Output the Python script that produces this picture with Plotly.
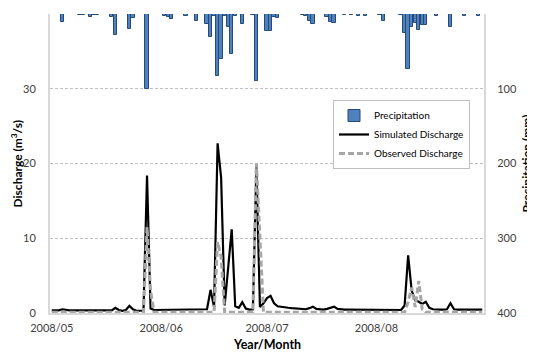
import pandas as pd
import plotly.graph_objects as go

# Daily dates, 2008-05-01 .. 2008-08-31
dates = pd.date_range("2008-05-01", "2008-08-31", freq="D")

# Precipitation (mm)
precipitation = [
    0, 0, 0, 11, 0, 0, 0, 0, 1, 1.5,
    0, 4.4, 1.5, 1, 0, 0, 0, 3.5, 28, 0,
    0, 0, 20, 5, 0, 0, 0, 100, 0, 0,
    0, 0, 2.5, 4.4, 6.7, 0, 0, 0, 2.7, 0,
    0, 10, 0, 0, 13.5, 31, 3, 83, 60.5, 3,
    18, 54, 2, 0, 14, 0, 0, 1, 89, 0,
    0, 23, 23, 4.5, 5.4, 0, 0, 0, 0, 0,
    0, 1, 2.7, 9, 14, 0, 0, 0, 4.4, 10.7,
    12.4, 0, 0, 1, 0, 1, 0, 2, 0, 2.7,
    0, 0, 0, 1, 9, 0, 0, 0, 0, 1,
    25, 73, 18, 12, 21, 15, 15, 0, 0, 2,
    0, 0, 0, 18, 0, 0, 0, 2, 0, 0,
    0, 2, 0,
]

# Simulated discharge (m3/s)
simulated = [
    0.35, 0.35, 0.35, 0.5, 0.4, 0.35, 0.35, 0.35, 0.35, 0.35,
    0.35, 0.4, 0.35, 0.35, 0.3, 0.3, 0.3, 0.35, 0.7, 0.4,
    0.3, 0.4, 0.95, 0.5, 0.3, 0.25, 0.3, 18.4, 0.6, 0.4,
    0.4, 0.4, 0.4, 0.4, 0.4, 0.4, 0.4, 0.4, 0.4, 0.4,
    0.4, 0.4, 0.4, 0.4, 0.5, 3.1, 0.8, 22.7, 18.1, 1.0,
    5.8, 11.2, 0.9, 0.7, 1.45, 0.6, 0.45, 0.5, 19.6, 0.8,
    1.3, 2.0, 2.3, 1.3, 0.9, 0.8, 0.75, 0.7, 0.65, 0.6,
    0.55, 0.5, 0.5, 0.65, 0.85, 0.55, 0.45, 0.45, 0.55, 0.75,
    0.85, 0.55, 0.45, 0.45, 0.45, 0.45, 0.45, 0.45, 0.45, 0.45,
    0.45, 0.45, 0.45, 0.45, 0.45, 0.45, 0.45, 0.4, 0.4, 0.4,
    1.0, 7.7, 3.0, 1.7, 1.5, 1.2, 1.5, 0.7, 0.5, 0.45,
    0.45, 0.45, 0.5, 1.3, 0.5, 0.45, 0.45, 0.45, 0.45, 0.45,
    0.45, 0.45, 0.45,
]

# Observed discharge (m3/s)
observed = [
    0.1, 0.1, 0.1, 0.1, 0.1, 0.1, 0.1, 0.1, 0.1, 0.1,
    0.1, 0.1, 0.1, 0.1, 0.1, 0.1, 0.1, 0.1, 0.1, 0.1,
    0.1, 0.1, 0.1, 0.1, 0.1, 0.1, 0.1, 11.5, 3.0, 0.1,
    0.1, 0.1, 0.1, 0.1, 0.1, 0.1, 0.1, 0.1, 0.1, 0.1,
    0.1, 0.1, 0.1, 0.1, 0.1, 0.1, 0.1, 9.5, 7.5, 0.1,
    0.1, 0.1, 0.1, 0.1, 0.1, 0.1, 0.1, 0.1, 20.0, 9.0,
    0.1, 0.1, 0.1, 0.1, 0.1, 0.1, 0.1, 0.1, 0.1, 0.1,
    0.1, 0.1, 0.1, 0.1, 0.1, 0.1, 0.1, 0.1, 0.1, 0.1,
    0.1, 0.1, 0.1, 0.1, 0.1, 0.1, 0.1, 0.1, 0.1, 0.1,
    0.1, 0.1, 0.1, 0.1, 0.1, 0.1, 0.1, 0.1, 0.1, 0.1,
    0.1, 1.5, 3.4, 0.8, 4.3, 0.5, 0.1, 0.1, 0.1, 0.1,
    0.1, 0.1, 0.1, 0.1, 0.1, 0.1, 0.1, 0.1, 0.1, 0.1,
    0.1, 0.1, 0.1,
]

FONT = "Lato, 'Open Sans', sans-serif"
AXIS_GRAY = "#D9D9D9"
TXT = "#404040"

# the page body adds an 8px offset, so the figure is 8px smaller each way
W, H = 527, 346
ML, MR, MT, MB = 42, 51, 6, 41
PW = W - ML - MR
PH = H - MT - MB

def px_x(px):
    """figure pixel -> paper x"""
    return (px - ML) / PW

def px_y(py):
    """figure pixel -> paper y"""
    return (H - MB - py) / PH

fig = go.Figure()
fig.add_trace(go.Bar(
    x=dates, y=precipitation, yaxis="y2", name="Precipitation",
    marker=dict(color="#4F81BD", line=dict(color="#254A7A", width=1)),
    width=86400000 * 0.95,
))
fig.add_trace(go.Scatter(
    x=dates, y=simulated, mode="lines", name="Simulated Discharge",
    line=dict(color="black", width=2.2),
))
fig.add_trace(go.Scatter(
    x=dates, y=observed, mode="lines", name="Observed Discharge",
    line=dict(color="#A6A6A6", width=3, dash="6px,3px"),
))

fig.update_layout(
    width=W, height=H,
    margin=dict(l=ML, r=MR, t=MT, b=MB),
    paper_bgcolor="white", plot_bgcolor="white",
    font=dict(family=FONT, size=11, color=TXT),
    showlegend=True,
    legend=dict(
        x=px_x(325), y=px_y(92), xanchor="left", yanchor="top",
        bgcolor="white", bordercolor="#BFBFBF", borderwidth=1,
        font=dict(size=10, color="black"), tracegroupgap=0,
        itemwidth=30,
    ),
    bargap=0,
    xaxis=dict(
        type="date", automargin=False,
        range=["2008-04-30 12:00", "2008-08-31 12:00"],
        tick0="2008-05-01", dtick="M1", tickformat="%Y/%m",
        showgrid=False, zeroline=False,
        showline=True, linecolor=AXIS_GRAY, linewidth=1.5,
        ticks="outside", ticklen=4, tickcolor="rgba(0,0,0,0)",
        tickfont=dict(size=11, color=TXT),
    ),
    yaxis=dict(
        range=[0, 40], dtick=10, automargin=False,
        showgrid=True, gridcolor="#BFBFBF", gridwidth=1, griddash="3px,2px",
        zeroline=False,
        showline=True, linecolor=AXIS_GRAY, linewidth=2,
        ticks="outside", ticklen=10, tickcolor="rgba(0,0,0,0)",
        tickfont=dict(size=11, color=TXT),
    ),
    yaxis2=dict(
        overlaying="y", side="right", automargin=False,
        range=[400, 0], dtick=100,
        showgrid=False, zeroline=False,
        showline=True, linecolor=AXIS_GRAY, linewidth=2,
        ticks="outside", ticklen=9, tickcolor="rgba(0,0,0,0)",
        tickfont=dict(size=11, color=TXT),
    ),
    annotations=[
        dict(text="<b>Discharge (m<sup>3</sup>/s)</b>", textangle=-90,
             xref="paper", yref="paper", x=px_x(8), y=0.5,
             xanchor="center", yanchor="middle", showarrow=False,
             font=dict(size=12, color="black")),
        dict(text="<b>Precipitation (mm)</b>", textangle=-90,
             xref="paper", yref="paper", x=px_x(518), y=0.5,
             xanchor="center", yanchor="middle", showarrow=False,
             font=dict(size=12, color="black")),
        dict(text="<b>Year/Month</b>",
             xref="paper", yref="paper", x=0.5, y=px_y(336),
             xanchor="center", yanchor="middle", showarrow=False,
             font=dict(size=12.5, color="black")),
    ],
)

fig.write_html("out.html")
